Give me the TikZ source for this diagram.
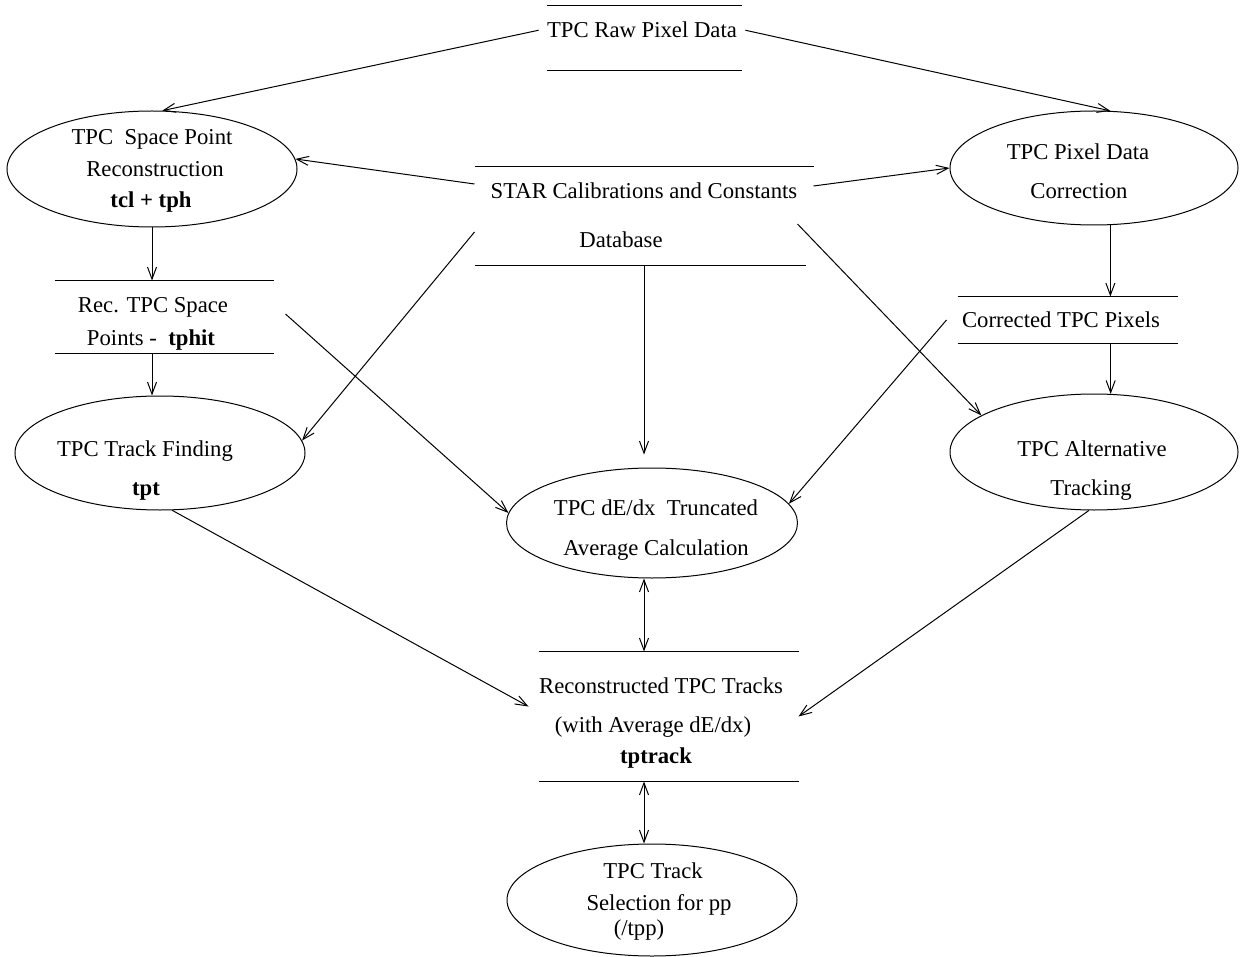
\documentclass[tikz,border=0pt]{standalone}
\usepackage{fontspec}
\setmainfont{Liberation Serif}
\usetikzlibrary{arrows.meta,calc,shapes.geometric}
\begin{document}
\begin{tikzpicture}[x=1pt,y=-1pt,
  line width=1pt,
  txt/.style={inner sep=0pt, anchor=base, font=\fontsize{22.7}{26}\selectfont},
  proc/.style={draw, ellipse, inner sep=0pt},
  store/.style={rectangle, inner sep=0pt},
  arr/.style={-{Straight Barb[length=12pt,width=9pt]}},
  darr/.style={{Straight Barb[length=12pt,width=9pt]}-{Straight Barb[length=12pt,width=9pt]}},
]
\useasboundingbox (0,0) rectangle (1244,957);

% ---- processes (ellipses) ----
\node[proc, minimum width=290pt, minimum height=116pt] (e1) at (152,169) {};
\node[proc, minimum width=288pt, minimum height=114pt] (e2) at (1094,168) {};
\node[proc, minimum width=290pt, minimum height=114pt] (e3) at (160,453) {};
\node[proc, minimum width=288pt, minimum height=116pt] (e4) at (1094,452) {};
\node[proc, minimum width=291pt, minimum height=110pt] (e5) at (652,523) {};
\node[proc, minimum width=290pt, minimum height=112pt] (e6) at (652,900) {};

% ---- data stores (two rules) ----
\node[store, minimum width=194pt, minimum height=64pt]  (raw)    at (644,38) {};
\node[store, minimum width=338pt, minimum height=98pt]  (star)   at (644,216) {};
\node[store, minimum width=218pt, minimum height=72pt]  (rec)    at (164,317) {};
\node[store, minimum width=219pt, minimum height=46pt]  (corr)   at (1067.5,320) {};
\node[store, minimum width=259pt, minimum height=129pt] (tracks) at (668.5,716.5) {};

\foreach \s in {raw,rec,corr,tracks}{
  \draw (\s.north west) -- (\s.north east);
  \draw (\s.south west) -- (\s.south east);
}
\draw (star.north west) -- (star.north east);
\draw (star.south west) -- ([xshift=-8pt]star.south east);

% ---- texts ----
\node[txt] (rawtxt) at (642,38) {TPC Raw Pixel Data};

\node[txt] (e1a) at (152,145) {TPC\ \ Space Point};
\node[txt] (e1b) at (155,177) {Reconstruction};
\node[txt] (e1c) at (151,208) {\bfseries tcl + tph};

\node[txt] (e2a) at (1078,160) {TPC Pixel Data};
\node[txt] (e2b) at (1079,199) {Correction};

\node[txt] (stara) at (644,199) {STAR Calibrations and Constants};
\node[txt] (starb) at (621,248) {Database};

\node[txt] (reca) at (153,313) {Rec. TPC Space};
\node[txt] (recb) at (151,345) {Points -\ \ \textbf{tphit}};

\node[txt] (corrtxt) at (1061,327) {Corrected TPC Pixels};

\node[txt] (e3a) at (145,456) {TPC Track Finding};
\node[txt] (e3b) at (146,495) {\bfseries tpt};

\node[txt] (e4a) at (1092,456) {TPC Alternative};
\node[txt] (e4b) at (1091,495) {Tracking};

\node[txt] (e5a) at (656,515) {TPC dE/dx\ \ Truncated};
\node[txt] (e5b) at (656,555) {Average Calculation};

\node[txt] (tra) at (661,693) {Reconstructed TPC Tracks};
\node[txt] (trb) at (653,732) {(with Average dE/dx)};
\node[txt] (trc) at (656,763) {\bfseries tptrack};

\node[txt] (e6a) at (653,878) {TPC Track};
\node[txt] (e6b) at (659,910) {Selection for pp};
\node[txt] (e6c) at (639,935) {(/tpp)};

% ---- connectors ----
\draw[arr] ([xshift=-8pt]rawtxt.west) -- (e1.80);
\draw[arr] ([xshift=8pt]rawtxt.east) -- (e2.74);

\draw[arr] ([yshift=32pt]star.west) -- (e1.4);
\draw[arr] ([yshift=30pt]star.east) -- (e2.west);
\draw[arr] ([yshift=-16pt]star.west) -- (e3.5);
\draw[arr] (star.south) -- ($(star.south |- e5.north)+(0,-13)$);
\draw[arr] ([xshift=-16pt,yshift=-8pt]star.east) -- (e4.162);

\draw[arr] (e1.south) -- (e1.south |- rec.north);
\draw[arr] (e1.south |- rec.south) -- (e1.south |- e3.north);
\draw[arr] ([xshift=12pt,yshift=3pt]rec.east) -- (e5.176);

\draw[arr] (e2.-74) -- (e2.-74 |- corr.north);
\draw[arr] (e4.74 |- corr.south) -- (e4.74);
\draw[arr] ([xshift=-11pt]corr.west) -- (e5.8);

\draw[arr] (e3.-78) -- ([xshift=-10pt,yshift=10pt]tracks.west);
\draw[arr] (e4.-95) -- (tracks.east);

\draw[darr] (star.south |- e5.south) -- (star.south |- tracks.north);
\draw[darr] (star.south |- tracks.south) -- (star.south |- e6.north);
\end{tikzpicture}
\end{document}
